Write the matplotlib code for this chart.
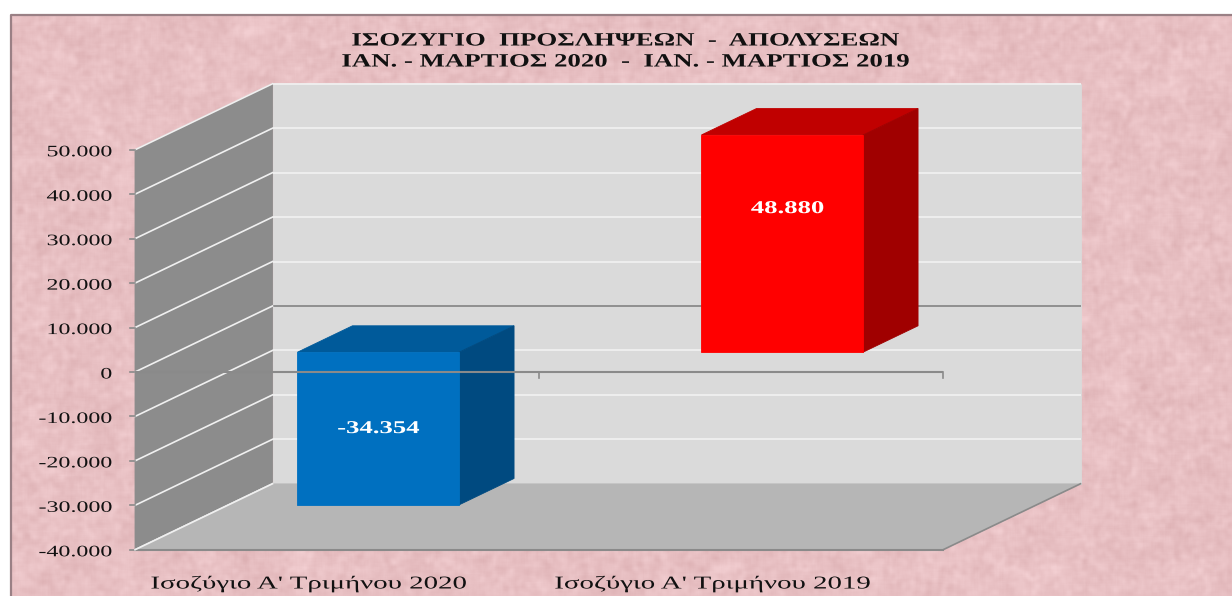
import numpy as np
import matplotlib
matplotlib.use('Agg')
import matplotlib.pyplot as plt
from matplotlib.patches import Polygon, Rectangle
from matplotlib.patheffects import AbstractPathEffect
from matplotlib.transforms import Affine2D

categories = ['Ισοζύγιο Α\' Τριμήνου 2020', 'Ισοζύγιο Α\' Τριμήνου 2019']
values = [-34354, 48880]
value_labels = ['-34.354', '48.880']
ticks = [50000, 40000, 30000, 20000, 10000, 0, -10000, -20000, -30000, -40000]
tick_labels = ['50.000', '40.000', '30.000', '20.000', '10.000', '0',
               '-10.000', '-20.000', '-30.000', '-40.000']
title_lines = ['ΙΣΟΖΥΓΙΟ  ΠΡΟΣΛΗΨΕΩΝ  -  ΑΠΟΛΥΣΕΩΝ',
               'ΙΑΝ. - ΜΑΡΤΙΟΣ 2020  -  ΙΑΝ. - ΜΑΡΤΙΟΣ 2019']

W, H = 1232, 596
plt.rcParams['font.family'] = ['Liberation Serif']


class Stretch(AbstractPathEffect):
    # the original text is squeezed wide, so widen the glyphs around an anchor
    def __init__(self, sx, anchor=0.5):
        super().__init__()
        self.sx = sx
        self.anchor = anchor

    def draw_path(self, renderer, gc, tpath, affine, rgbFace=None):
        ext = tpath.get_extents()
        ref = ext.x0 + self.anchor * ext.width
        t = Affine2D().translate(-ref, 0).scale(self.sx, 1).translate(ref, 0) + affine
        renderer.draw_path(gc, tpath, t, rgbFace)


fig = plt.figure(figsize=(W / 100, H / 100), dpi=100)
fig.patch.set_facecolor('white')

# pink paper texture behind everything
rng = np.random.default_rng(7)


def blur(a, n):
    k = np.ones(n) / n
    a = np.apply_along_axis(lambda r: np.convolve(r, k, mode='same'), 0, a)
    a = np.apply_along_axis(lambda r: np.convolve(r, k, mode='same'), 1, a)
    return a


noise = blur(blur(rng.normal(size=(H, W)), 5), 5) * 4 + blur(rng.normal(size=(H, W)), 21) * 9
noise = np.clip(noise * 0.4, -1, 1)
base = np.array([232, 192, 195]) / 255
tex = base[None, None, :] + noise[:, :, None] * np.array([0.04, 0.055, 0.055])
tex = np.clip(tex, 0, 1)
bg = fig.add_axes([0, 0, 1, 1])
bg.imshow(tex, extent=(0, W, H, 0), aspect='auto', interpolation='bilinear')
bg.add_patch(Rectangle((0, 0), W, 14.5, color='white', lw=0))
bg.add_patch(Rectangle((0, 0), 10, H, color='white', lw=0))
bg.plot([11, 11, W], [H, 15, 15], color='#9a8085', lw=1.6)
bg.set_xlim(0, W)
bg.set_ylim(H, 0)
bg.axis('off')

# data axes: x in categories, y in values, filling the whole figure
x_unit = 404.0              # pixels per category
y_unit = 400.0 / 90000      # pixels per value
x0_px, y0_px = 135.0, 372.0  # where x=0, value=0 lands on the front plane
ax = fig.add_axes([0, 0, 1, 1])
ax.set_xlim(-x0_px / x_unit, (W - x0_px) / x_unit)
ax.set_ylim(-(H - y0_px) / y_unit, y0_px / y_unit)
ax.axis('off')
ax.patch.set_alpha(0)

# depth of the box in data units
depth_x = 137.5 / x_unit
depth_y = 66.0 / y_unit
ymin, ymax = min(ticks), max(ticks)
xmax = len(categories)


def pt(x, y, d=0.0):
    return (x + d * depth_x, y + d * depth_y)


def face(points, color, z, edge=None):
    ax.add_patch(Polygon(points, closed=True, facecolor=color, edgecolor=edge or color,
                         lw=0.6, zorder=z))


# walls and floor
face([pt(0, ymin, 1), pt(xmax, ymin, 1), pt(xmax, ymax, 1), pt(0, ymax, 1)], '#dadada', 1)
face([pt(0, ymin), pt(0, ymin, 1), pt(0, ymax, 1), pt(0, ymax)], '#8c8c8c', 1)
face([pt(0, ymin), pt(xmax, ymin), pt(xmax, ymin, 1), pt(0, ymin, 1)], '#b6b6b6', 2)

# gridlines
for t, lab in zip(ticks, tick_labels):
    col = '#8a8a8a' if t == 0 else '#f0f0f0'
    ax.plot(*zip(pt(0, t, 1), pt(xmax, t, 1)), color=col, lw=1.3, zorder=1.5,
            solid_capstyle='butt')
    ax.plot(*zip(pt(0, t), pt(0, t, 1)), color='#f0f0f0', lw=1.2, zorder=1.5)
    ax.plot(*zip(pt(-5 / x_unit, t), pt(0, t)), color='#8a8a8a', lw=1.2, zorder=3)
    ax.text(-23 / x_unit, t - 2.5 / y_unit, lab, ha='right', va='center', fontsize=11.5,
            color='#111111', zorder=6, path_effects=[Stretch(1.5, 1.0)])
ax.plot(*zip(pt(0, ymin), pt(xmax, ymin)), color='#8a8a8a', lw=1.5, zorder=3)
ax.plot(*zip(pt(xmax, ymin), pt(xmax, ymin, 1)), color='#8a8a8a', lw=1.2, zorder=3)
ax.plot(*zip(pt(0, ymin), pt(0, ymin, 1)), color='#f0f0f0', lw=1.2, zorder=3)

# bars
colors = [('#0070c0', '#005a9a', '#004a80'), ('#ff0000', '#c00000', '#a00000')]
bar_left, bar_w = 0.3, 0.4
d0, d1 = 0.3, 0.7
label_shift = [(0, 0), (5, 35)]  # pixels, away from the centre of the front face
for i, v in enumerate(values):
    xl, xr = i + bar_left, i + bar_left + bar_w
    lo, hi = min(0, v), max(0, v)
    front, top, side = colors[i]
    face([pt(xl, hi, d0), pt(xr, hi, d0), pt(xr, hi, d1), pt(xl, hi, d1)], top, 4)
    face([pt(xr, lo, d0), pt(xr, lo, d1), pt(xr, hi, d1), pt(xr, hi, d0)], side, 4)
    face([pt(xl, lo, d0), pt(xr, lo, d0), pt(xr, hi, d0), pt(xl, hi, d0)], front, 4)
    cx, cy = pt((xl + xr) / 2, (lo + hi) / 2, d0)
    ax.text(cx + label_shift[i][0] / x_unit, cy + label_shift[i][1] / y_unit, value_labels[i],
            ha='center', va='center', color='white', fontsize=13, fontweight='bold',
            zorder=7, path_effects=[Stretch(1.48)])

# category axis in front of the bars
ax.plot([0, xmax], [0, 0], color='#8a8a8a', lw=1.5, zorder=5, solid_capstyle='butt')
for c in range(1, xmax + 1):
    ax.plot([c, c], [0, -6 / y_unit], color='#8a8a8a', lw=1.2, zorder=5)

for i, name in enumerate(categories):
    ax.text(i + 0.5 - 29 / x_unit, ymin - 34 / y_unit, name, ha='center', va='center',
            fontsize=13, color='#111111', zorder=6, path_effects=[Stretch(1.6)])

# title
for line, py in zip(title_lines, (41, 62)):
    ax.text((625.5 - x0_px) / x_unit, (y0_px - py) / y_unit, line, ha='center', va='center',
            fontsize=13.5, fontweight='bold', color='#111111', zorder=6,
            path_effects=[Stretch(1.43)])

fig.savefig('out.png', dpi=100)
